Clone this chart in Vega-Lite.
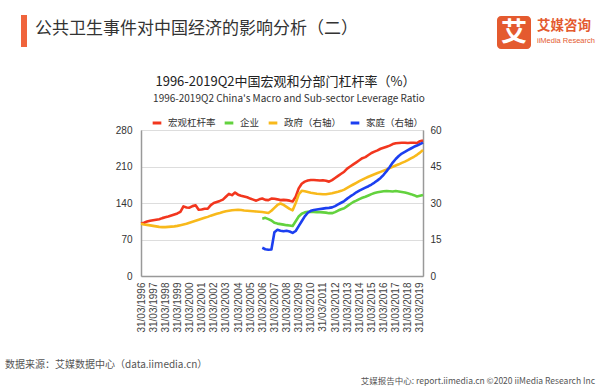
{
  "$schema": "https://vega.github.io/schema/vega-lite/v6.json",
  "width": 282,
  "height": 146,
  "autosize": {"type": "none"},
  "padding": {"left": 141, "top": 130, "right": 177, "bottom": 114},
  "background": "white",
  "config": {
    "view": {"stroke": "#cccccc"},
    "axis": {"labelFont": "Liberation Sans", "labelColor": "#333333", "domainColor": "#999999", "domainWidth": 1.5, "ticks": false, "title": null},
    "axisX": {"labelOverlap": false, "labelFlush": false, "labelBound": false}
  },
  "datasets": {
    "lev": [
      {"d": "1996-03-31", "m": 100.5, "g": 21.5},
      {"d": "1996-06-30", "m": 102, "g": 21.2},
      {"d": "1996-09-30", "m": 104.5, "g": 21.0},
      {"d": "1996-12-31", "m": 106, "g": 20.8},
      {"d": "1997-03-31", "m": 107, "g": 20.6},
      {"d": "1997-06-30", "m": 108, "g": 20.4},
      {"d": "1997-09-30", "m": 109, "g": 20.2},
      {"d": "1997-12-31", "m": 111, "g": 20.1},
      {"d": "1998-03-31", "m": 112.5, "g": 20.1},
      {"d": "1998-06-30", "m": 114, "g": 20.2},
      {"d": "1998-09-30", "m": 116, "g": 20.3},
      {"d": "1998-12-31", "m": 118, "g": 20.4},
      {"d": "1999-03-31", "m": 120, "g": 20.6},
      {"d": "1999-06-30", "m": 123, "g": 20.9},
      {"d": "1999-09-30", "m": 133.5, "g": 21.2},
      {"d": "1999-12-31", "m": 131.5, "g": 21.5},
      {"d": "2000-03-31", "m": 131, "g": 21.9},
      {"d": "2000-06-30", "m": 134, "g": 22.3},
      {"d": "2000-09-30", "m": 135.5, "g": 22.7},
      {"d": "2000-12-31", "m": 127, "g": 23.1},
      {"d": "2001-03-31", "m": 127.5, "g": 23.5},
      {"d": "2001-06-30", "m": 129, "g": 23.9},
      {"d": "2001-09-30", "m": 129, "g": 24.3},
      {"d": "2001-12-31", "m": 136, "g": 24.8},
      {"d": "2002-03-31", "m": 140, "g": 25.2},
      {"d": "2002-06-30", "m": 142, "g": 25.6},
      {"d": "2002-09-30", "m": 144, "g": 25.9},
      {"d": "2002-12-31", "m": 146.5, "g": 26.3},
      {"d": "2003-03-31", "m": 152, "g": 26.6},
      {"d": "2003-06-30", "m": 157.5, "g": 26.8},
      {"d": "2003-09-30", "m": 155, "g": 27.0},
      {"d": "2003-12-31", "m": 160, "g": 27.1},
      {"d": "2004-03-31", "m": 156, "g": 27.2},
      {"d": "2004-06-30", "m": 154, "g": 27.1},
      {"d": "2004-09-30", "m": 152.5, "g": 26.9},
      {"d": "2004-12-31", "m": 151, "g": 26.8},
      {"d": "2005-03-31", "m": 148.5, "g": 26.7},
      {"d": "2005-06-30", "m": 146.5, "g": 26.6},
      {"d": "2005-09-30", "m": 144.5, "g": 26.5},
      {"d": "2005-12-31", "m": 147, "g": 26.4},
      {"d": "2006-03-31", "m": 148.5, "g": 26.3, "c": 110, "h": 11.6},
      {"d": "2006-06-30", "m": 146, "g": 26.1, "c": 111.5, "h": 11.0},
      {"d": "2006-09-30", "m": 145.5, "g": 25.9, "c": 109, "h": 10.8},
      {"d": "2006-12-31", "m": 148.5, "g": 26.8, "c": 106.5, "h": 10.9},
      {"d": "2007-03-31", "m": 148, "g": 28.0, "c": 102, "h": 18.0},
      {"d": "2007-06-30", "m": 147, "g": 29.2, "c": 100.5, "h": 19.0},
      {"d": "2007-09-30", "m": 145.5, "g": 29.8, "c": 99.5, "h": 18.6},
      {"d": "2007-12-31", "m": 146, "g": 29.2, "c": 98.5, "h": 18.4},
      {"d": "2008-03-31", "m": 145.5, "g": 28.4, "c": 97.5, "h": 18.6},
      {"d": "2008-06-30", "m": 144.5, "g": 27.6, "c": 97, "h": 18.3},
      {"d": "2008-09-30", "m": 143, "g": 27.0, "c": 96, "h": 17.7},
      {"d": "2008-12-31", "m": 152, "g": 30.0, "c": 105, "h": 18.5},
      {"d": "2009-03-31", "m": 168, "g": 33.5, "c": 114, "h": 20.5},
      {"d": "2009-06-30", "m": 177, "g": 35.0, "c": 119.5, "h": 22.5},
      {"d": "2009-09-30", "m": 181, "g": 34.8, "c": 122, "h": 24.5},
      {"d": "2009-12-31", "m": 183, "g": 34.5, "c": 123, "h": 26.0},
      {"d": "2010-03-31", "m": 184, "g": 34.2, "c": 123, "h": 26.8},
      {"d": "2010-06-30", "m": 184, "g": 34.0, "c": 123, "h": 27.1},
      {"d": "2010-09-30", "m": 183.5, "g": 33.8, "c": 122.5, "h": 27.3},
      {"d": "2010-12-31", "m": 183, "g": 33.7, "c": 122.5, "h": 27.5},
      {"d": "2011-03-31", "m": 183.5, "g": 33.6, "c": 122, "h": 27.7},
      {"d": "2011-06-30", "m": 182.5, "g": 33.6, "c": 121.5, "h": 27.9},
      {"d": "2011-09-30", "m": 181, "g": 33.8, "c": 120.5, "h": 28.0},
      {"d": "2011-12-31", "m": 184, "g": 34.0, "c": 120.5, "h": 28.2},
      {"d": "2012-03-31", "m": 188, "g": 34.3, "c": 122.5, "h": 28.7},
      {"d": "2012-06-30", "m": 192, "g": 34.6, "c": 125.5, "h": 29.4},
      {"d": "2012-09-30", "m": 196, "g": 35.0, "c": 128, "h": 30.1},
      {"d": "2012-12-31", "m": 200, "g": 35.5, "c": 130, "h": 30.8},
      {"d": "2013-03-31", "m": 206, "g": 36.2, "c": 134, "h": 31.8},
      {"d": "2013-06-30", "m": 210, "g": 36.9, "c": 138, "h": 32.7},
      {"d": "2013-09-30", "m": 214, "g": 37.6, "c": 142, "h": 33.5},
      {"d": "2013-12-31", "m": 218, "g": 38.3, "c": 144.5, "h": 34.4},
      {"d": "2014-03-31", "m": 222, "g": 39.0, "c": 147.5, "h": 35.1},
      {"d": "2014-06-30", "m": 226, "g": 39.6, "c": 150, "h": 35.7},
      {"d": "2014-09-30", "m": 228, "g": 40.2, "c": 152, "h": 36.3},
      {"d": "2014-12-31", "m": 232, "g": 40.8, "c": 154.5, "h": 36.9},
      {"d": "2015-03-31", "m": 236, "g": 41.3, "c": 157, "h": 37.6},
      {"d": "2015-06-30", "m": 238.5, "g": 41.8, "c": 159, "h": 38.4},
      {"d": "2015-09-30", "m": 241, "g": 42.3, "c": 160.5, "h": 39.3},
      {"d": "2015-12-31", "m": 244, "g": 42.8, "c": 161.5, "h": 40.3},
      {"d": "2016-03-31", "m": 246, "g": 43.3, "c": 162.5, "h": 41.6},
      {"d": "2016-06-30", "m": 248, "g": 43.8, "c": 163, "h": 43.1},
      {"d": "2016-09-30", "m": 250, "g": 44.4, "c": 162.5, "h": 44.8},
      {"d": "2016-12-31", "m": 253, "g": 44.9, "c": 162, "h": 46.6},
      {"d": "2017-03-31", "m": 254.5, "g": 45.4, "c": 163, "h": 48.1},
      {"d": "2017-06-30", "m": 255, "g": 45.9, "c": 162, "h": 49.3},
      {"d": "2017-09-30", "m": 255.5, "g": 46.5, "c": 161, "h": 50.3},
      {"d": "2017-12-31", "m": 255.5, "g": 47.0, "c": 160, "h": 51.0},
      {"d": "2018-03-31", "m": 255, "g": 47.6, "c": 158.5, "h": 51.7},
      {"d": "2018-06-30", "m": 255.5, "g": 48.3, "c": 157, "h": 52.4},
      {"d": "2018-09-30", "m": 255.5, "g": 49.0, "c": 155, "h": 53.1},
      {"d": "2018-12-31", "m": 255, "g": 49.8, "c": 152.5, "h": 53.6},
      {"d": "2019-03-31", "m": 258.5, "g": 50.7, "c": 154, "h": 54.2},
      {"d": "2019-06-30", "m": 260, "g": 51.8, "c": 155.5, "h": 54.8}
    ]
  },
  "layer": [
    {
      "data": {"name": "lev"},
      "transform": [{"fold": ["m", "c"], "as": ["k", "v"]}],
      "mark": {"type": "line", "strokeWidth": 2.6, "strokeJoin": "round"},
      "encoding": {
        "x": {
          "field": "d", "type": "temporal",
          "scale": {"type": "utc", "domain": [{"year": 1996, "month": 3, "date": 31, "utc": true}, {"year": 2019, "month": 6, "date": 30, "utc": true}]},
          "axis": {
            "format": "%d/%m/%Y", "labelAngle": 270, "labelFontSize": 10, "labelPadding": 6, "grid": false, "labelOverlap": false, "labelColor": "#444444",
            "values": [
              {"year": 1996, "month": 3, "date": 31, "utc": true}, {"year": 1997, "month": 3, "date": 31, "utc": true},
              {"year": 1998, "month": 3, "date": 31, "utc": true}, {"year": 1999, "month": 3, "date": 31, "utc": true},
              {"year": 2000, "month": 3, "date": 31, "utc": true}, {"year": 2001, "month": 3, "date": 31, "utc": true},
              {"year": 2002, "month": 3, "date": 31, "utc": true}, {"year": 2003, "month": 3, "date": 31, "utc": true},
              {"year": 2004, "month": 3, "date": 31, "utc": true}, {"year": 2005, "month": 3, "date": 31, "utc": true},
              {"year": 2006, "month": 3, "date": 31, "utc": true}, {"year": 2007, "month": 3, "date": 31, "utc": true},
              {"year": 2008, "month": 3, "date": 31, "utc": true}, {"year": 2009, "month": 3, "date": 31, "utc": true},
              {"year": 2010, "month": 3, "date": 31, "utc": true}, {"year": 2011, "month": 3, "date": 31, "utc": true},
              {"year": 2012, "month": 3, "date": 31, "utc": true}, {"year": 2013, "month": 3, "date": 31, "utc": true},
              {"year": 2014, "month": 3, "date": 31, "utc": true}, {"year": 2015, "month": 3, "date": 31, "utc": true},
              {"year": 2016, "month": 3, "date": 31, "utc": true}, {"year": 2017, "month": 3, "date": 31, "utc": true},
              {"year": 2018, "month": 3, "date": 31, "utc": true}, {"year": 2019, "month": 3, "date": 31, "utc": true}
            ]
          }
        },
        "y": {
          "field": "v", "type": "quantitative",
          "scale": {"domain": [0, 280]},
          "axis": {"values": [0, 70, 140, 210, 280], "grid": true, "gridColor": "#dddddd", "labelFontSize": 10, "labelPadding": 9}
        },
        "color": {
          "field": "k", "type": "nominal",
          "scale": {"domain": ["m", "c", "g", "h"], "range": ["#f2361e", "#63d23e", "#f8b91b", "#1c3ff0"]},
          "legend": {
            "orient": "none", "legendX": 10, "legendY": -13, "direction": "horizontal", "title": null,
            "symbolType": "stroke", "symbolStrokeWidth": 3, "symbolSize": 75, "labelFont": "Noto Sans CJK SC", "labelFontSize": 9.5, "labelColor": "#333333", "columnPadding": 2, "labelOffset": 5,
            "labelExpr": "datum.label == 'm' ? '宏观杠杆率' : datum.label == 'c' ? '企业' : datum.label == 'g' ? '政府（右轴）' : '家庭（右轴）'"
          }
        }
      }
    },
    {
      "data": {"name": "lev"},
      "transform": [{"fold": ["g", "h"], "as": ["k", "v"]}],
      "mark": {"type": "line", "strokeWidth": 2.6, "strokeJoin": "round"},
      "encoding": {
        "x": {
          "field": "d", "type": "temporal",
          "axis": {
            "format": "%d/%m/%Y", "labelAngle": 270, "labelFontSize": 10, "labelPadding": 6, "grid": false, "labelOverlap": false, "labelColor": "#444444",
            "values": [
              {"year": 1996, "month": 3, "date": 31, "utc": true}, {"year": 1997, "month": 3, "date": 31, "utc": true},
              {"year": 1998, "month": 3, "date": 31, "utc": true}, {"year": 1999, "month": 3, "date": 31, "utc": true},
              {"year": 2000, "month": 3, "date": 31, "utc": true}, {"year": 2001, "month": 3, "date": 31, "utc": true},
              {"year": 2002, "month": 3, "date": 31, "utc": true}, {"year": 2003, "month": 3, "date": 31, "utc": true},
              {"year": 2004, "month": 3, "date": 31, "utc": true}, {"year": 2005, "month": 3, "date": 31, "utc": true},
              {"year": 2006, "month": 3, "date": 31, "utc": true}, {"year": 2007, "month": 3, "date": 31, "utc": true},
              {"year": 2008, "month": 3, "date": 31, "utc": true}, {"year": 2009, "month": 3, "date": 31, "utc": true},
              {"year": 2010, "month": 3, "date": 31, "utc": true}, {"year": 2011, "month": 3, "date": 31, "utc": true},
              {"year": 2012, "month": 3, "date": 31, "utc": true}, {"year": 2013, "month": 3, "date": 31, "utc": true},
              {"year": 2014, "month": 3, "date": 31, "utc": true}, {"year": 2015, "month": 3, "date": 31, "utc": true},
              {"year": 2016, "month": 3, "date": 31, "utc": true}, {"year": 2017, "month": 3, "date": 31, "utc": true},
              {"year": 2018, "month": 3, "date": 31, "utc": true}, {"year": 2019, "month": 3, "date": 31, "utc": true}
            ]
          }
        },
        "y": {
          "field": "v", "type": "quantitative",
          "scale": {"domain": [0, 60]},
          "axis": {"orient": "right", "values": [0, 15, 30, 45, 60], "grid": false, "labelFontSize": 10, "labelPadding": 7}
        },
        "color": {
          "field": "k", "type": "nominal",
          "scale": {"domain": ["m", "c", "g", "h"], "range": ["#f2361e", "#63d23e", "#f8b91b", "#1c3ff0"]},
          "legend": {
            "orient": "none", "legendX": 10, "legendY": -13, "direction": "horizontal", "title": null,
            "symbolType": "stroke", "symbolStrokeWidth": 3, "symbolSize": 75, "labelFont": "Noto Sans CJK SC", "labelFontSize": 9.5, "labelColor": "#333333", "columnPadding": 2, "labelOffset": 5,
            "labelExpr": "datum.label == 'm' ? '宏观杠杆率' : datum.label == 'c' ? '企业' : datum.label == 'g' ? '政府（右轴）' : '家庭（右轴）'"
          }
        }
      }
    },
    {
      "data": {"values": [{}]},
      "mark": {"type": "text", "text": "1996-2019Q2中国宏观和分部门杠杆率（%）", "x": 144.5, "y": -48, "align": "center", "baseline": "middle", "font": "Noto Sans CJK SC", "fontSize": 13, "color": "#222222"}
    },
    {
      "data": {"values": [{}]},
      "mark": {"type": "text", "text": "1996-2019Q2 China's Macro and Sub-sector Leverage Ratio", "x": 148, "y": -31.5, "align": "center", "baseline": "middle", "font": "Noto Sans CJK SC", "fontSize": 10, "color": "#333333"}
    },
    {
      "data": {"values": [{}]},
      "mark": {"type": "rect", "x": -120, "x2": -114, "y": -115, "y2": -83, "color": "#f0643c"}
    },
    {
      "data": {"values": [{}]},
      "mark": {"type": "text", "text": "公共卫生事件对中国经济的影响分析（二）", "x": -106, "y": -101, "align": "left", "baseline": "middle", "font": "Noto Sans CJK SC", "fontSize": 17, "color": "#333333"}
    },
    {
      "data": {"values": [{}]},
      "mark": {"type": "rect", "x": 356, "x2": 390, "y": -114, "y2": -81, "cornerRadius": 4, "color": "#e45a2f"}
    },
    {
      "data": {"values": [{}]},
      "mark": {"type": "text", "text": "艾", "x": 373, "y": -97.5, "align": "center", "baseline": "middle", "font": "Noto Sans CJK SC", "fontWeight": "bold", "fontSize": 26, "color": "white"}
    },
    {
      "data": {"values": [{}]},
      "mark": {"type": "text", "text": "艾媒咨询", "x": 396, "y": -104, "align": "left", "baseline": "middle", "font": "Noto Sans CJK SC", "fontWeight": "bold", "fontSize": 13.5, "color": "#e45a2f"}
    },
    {
      "data": {"values": [{}]},
      "mark": {"type": "text", "text": "iiMedia Research", "x": 396, "y": -89, "align": "left", "baseline": "middle", "font": "Liberation Sans", "fontSize": 7.5, "color": "#e45a2f"}
    },
    {
      "data": {"values": [{}]},
      "mark": {"type": "text", "text": "数据来源：艾媒数据中心（data.iimedia.cn）", "x": -136, "y": 235, "align": "left", "baseline": "middle", "font": "Noto Sans CJK SC", "fontSize": 10, "color": "#555555"}
    },
    {
      "data": {"values": [{}]},
      "mark": {"type": "rule", "x": -141, "x2": 459, "y": 242, "color": "#aaaaaa", "strokeWidth": 1.5},
      "encoding": {}
    },
    {
      "data": {"values": [{}]},
      "mark": {"type": "text", "text": "艾媒报告中心: report.iimedia.cn  ©2020  iiMedia Research Inc", "x": 454, "y": 251, "align": "right", "baseline": "middle", "font": "Noto Sans CJK SC", "fontSize": 8.5, "color": "#555555"}
    }
  ],
  "resolve": {"scale": {"y": "independent"}}
}
